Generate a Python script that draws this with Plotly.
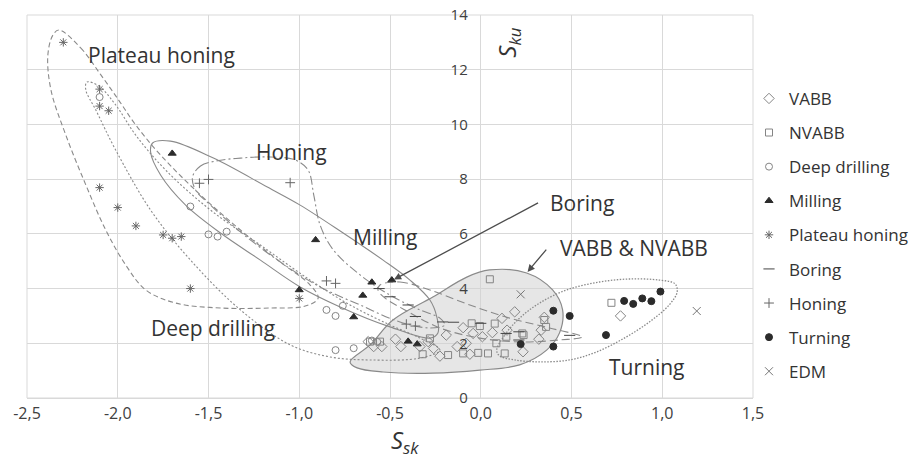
import plotly.graph_objects as go

# ---- axis ticks ----
x_ticks = [-2.5, -2.0, -1.5, -1.0, -0.5, 0.0, 0.5, 1.0, 1.5]
x_tick_text = ["-2,5", "-2,0", "-1,5", "-1,0", "-0,5", "0,0", "0,5", "1,0", "1,5"]
y_ticks = [0, 2, 4, 6, 8, 10, 12, 14]

# ---- measured surfaces (Ssk, Sku) ----
vabb_x = [-0.62, -0.59, -0.545, -0.47, -0.44, -0.335, -0.29, -0.26, -0.225, -0.19, -0.13,
          -0.097, -0.08, -0.06, -0.042, 0.009, 0.064, 0.117, 0.145, 0.187, 0.233, 0.32,
          0.333, 0.35, 0.77]
vabb_y = [2.06, 1.88, 1.88, 2.15, 1.88, 1.88, 2.06, 1.81, 1.53, 2.30, 1.88,
          2.57, 2.00, 1.60, 2.36, 2.24, 2.39, 2.91, 2.48, 3.15, 1.69, 2.15,
          2.48, 2.95, 3.00]

nvabb_x = [-0.61, -0.555, -0.32, -0.28, -0.18, -0.097, -0.05, -0.005, -0.014, 0.04,
           0.077, 0.086, 0.132, 0.141, 0.229, 0.236, 0.35, 0.36, 0.05, 0.72]
nvabb_y = [2.06, 2.06, 1.60, 2.18, 1.57, 1.63, 2.73, 2.63, 1.65, 1.63,
           2.72, 2.00, 1.63, 2.24, 2.36, 2.30, 2.85, 2.60, 4.34, 3.48]

deep_x = [-2.10, -1.60, -1.50, -1.45, -1.40, -0.85, -0.80, -0.76, -0.80, -0.70, -0.60, -0.57]
deep_y = [11.0, 7.0, 5.98, 5.90, 6.08, 3.22, 3.0, 3.37, 1.75, 1.82, 2.10, 2.05]

milling_x = [-1.70, -0.91, -1.00, -0.60, -0.49, -0.65, -0.70, -0.40, -0.35]
milling_y = [8.94, 5.78, 3.95, 4.23, 4.31, 3.75, 2.96, 2.07, 1.97]

plateau_x = [-2.30, -2.10, -2.10, -2.05, -2.10, -2.00, -1.90, -1.75, -1.70, -1.65, -1.60, -1.00]
plateau_y = [13.0, 11.29, 10.67, 10.50, 7.69, 6.96, 6.29, 5.96, 5.84, 5.90, 4.00, 3.64]

boring_x = [-0.56, -0.50, -0.40, -0.36, -0.21, -0.15, 0.0, 0.14, 0.21, 0.21, 0.49]
boring_y = [4.00, 3.70, 3.40, 2.98, 2.78, 2.77, 2.73, 2.36, 2.42, 2.12, 2.29]

honing_x = [-1.55, -1.50, -1.05, -0.85, -0.80, -0.41, -0.36]
honing_y = [7.85, 7.99, 7.87, 4.28, 4.19, 2.70, 2.63]

turning_x = [0.22, 0.40, 0.40, 0.49, 0.69, 0.79, 0.84, 0.89, 0.94, 0.99]
turning_y = [1.97, 3.19, 1.88, 3.00, 2.30, 3.55, 3.44, 3.64, 3.54, 3.89]

edm_x = [0.22, 1.19]
edm_y = [3.79, 3.18]

# ---- hand-drawn group outlines (Ssk, Sku) ----
vabb_outline = [(-0.720, 1.32), (-0.610, 1.94), (-0.484, 2.85), (-0.264, 3.69), (-0.077, 4.42),
                (0.049, 4.68), (0.253, 4.57), (0.396, 3.95), (0.451, 3.22), (0.434, 2.38),
                (0.363, 1.75), (0.214, 1.21), (-0.005, 1.02), (-0.264, 0.91), (-0.538, 0.95),
                (-0.681, 1.10)]
plateau_outline = [(-2.324, 13.45), (-2.203, 12.79), (-2.093, 11.81), (-1.995, 10.89),
                   (-1.901, 9.98), (-1.764, 8.88), (-1.544, 7.42), (-1.324, 6.14),
                   (-1.104, 4.97), (-0.940, 4.13), (-0.896, 3.65), (-0.967, 3.36),
                   (-1.159, 3.29), (-1.434, 3.29), (-1.681, 3.47), (-1.846, 3.95),
                   (-1.956, 4.86), (-2.066, 6.14), (-2.176, 7.79), (-2.286, 9.61),
                   (-2.368, 11.26), (-2.385, 12.54), (-2.357, 13.27)]
deep_outline = [(-2.170, 11.55), (-2.104, 11.40), (-2.011, 10.71), (-1.901, 9.61),
                (-1.736, 8.33), (-1.489, 6.87), (-1.214, 5.59), (-0.940, 4.31),
                (-0.720, 3.40), (-0.500, 2.67), (-0.335, 2.19), (-0.225, 1.75),
                (-0.335, 1.46), (-0.610, 1.39), (-0.830, 1.50), (-1.049, 1.94),
                (-1.324, 3.22), (-1.599, 5.04), (-1.819, 6.87), (-2.011, 9.06),
                (-2.121, 10.53), (-2.176, 11.26)]
milling_outline = [(-1.808, 9.32), (-1.709, 9.39), (-1.473, 8.77), (-1.176, 7.71),
                   (-0.995, 7.05), (-0.758, 6.03), (-0.538, 5.04), (-0.390, 4.31),
                   (-0.280, 3.58), (-0.242, 2.96), (-0.236, 2.38), (-0.280, 2.19),
                   (-0.500, 2.60), (-0.775, 3.33), (-0.995, 4.06), (-1.214, 5.04),
                   (-1.434, 6.03), (-1.626, 7.05), (-1.764, 8.15), (-1.819, 8.99)]
honing_outline = [(-1.588, 8.08), (-1.544, 8.48), (-1.462, 8.66), (-1.324, 8.77),
                  (-1.159, 8.81), (-1.022, 8.70), (-0.951, 8.33), (-0.920, 7.42),
                  (-0.885, 6.32), (-0.812, 5.41), (-0.665, 4.50), (-0.500, 3.76),
                  (-0.335, 3.22), (-0.225, 2.92), (-0.198, 2.67), (-0.280, 2.56),
                  (-0.445, 2.78), (-0.665, 3.40), (-0.885, 4.06), (-1.104, 4.97),
                  (-1.324, 6.07), (-1.489, 7.05), (-1.571, 7.60)]
boring_outline = [(-0.555, 4.13), (-0.445, 4.24), (-0.280, 3.95), (-0.060, 3.40),
                  (0.159, 2.92), (0.379, 2.56), (0.560, 2.23), (0.434, 2.12),
                  (0.214, 2.05), (-0.005, 2.19), (-0.225, 2.56), (-0.418, 3.22),
                  (-0.527, 3.65), (-0.566, 3.95)]
turning_outline = [(0.088, 1.75), (0.132, 2.30), (0.214, 2.92), (0.324, 3.47), (0.473, 3.95),
                   (0.654, 4.24), (0.819, 4.35), (0.984, 4.31), (1.071, 4.17), (1.082, 3.87),
                   (1.038, 3.40), (0.929, 2.78), (0.791, 2.19), (0.637, 1.68), (0.489, 1.39),
                   (0.324, 1.32), (0.187, 1.39), (0.104, 1.54)]

# ---- group labels and arrows ----
label_text = ["Plateau honing", "Honing", "Milling", "Boring", "VABB & NVABB",
              "Deep drilling", "Turning"]
label_x = [-1.758, -1.044, -0.527, 0.56, 0.846, -1.473, 0.918]
label_y = [12.54, 8.99, 5.88, 7.13, 5.48, 2.56, 1.13]
arrow_tail = [(0.324, 7.16), (0.368, 5.48)]
arrow_head = [(-0.478, 4.33), (0.258, 4.61)]

GRID = "#d9d9d9"
OPEN = "#858585"
DARK = "#2b2b2b"
TEXT = "#333333"

fig = go.Figure()


def closed(points):
    xs = [p[0] for p in points] + [points[0][0]]
    ys = [p[1] for p in points] + [points[0][1]]
    return xs, ys


ox, oy = closed(vabb_outline)
fig.add_trace(go.Scatter(x=ox, y=oy, mode="lines", fill="toself",
                         fillcolor="rgba(210,210,210,0.55)",
                         line=dict(color="#8a8a8a", width=1.2, shape="spline", smoothing=1.0),
                         showlegend=False, hoverinfo="skip"))

for pts, dash, width in [
    (plateau_outline, "5px,3px", 1.1),
    (deep_outline, "2px,2px", 1.1),
    (milling_outline, "solid", 1.1),
    (honing_outline, "9px,3px,2px,3px", 1.1),
    (boring_outline, "8px,4px", 1.1),
    (turning_outline, "1.5px,1.5px", 1.3),
]:
    ox, oy = closed(pts)
    fig.add_trace(go.Scatter(x=ox, y=oy, mode="lines",
                             line=dict(color="#8a8a8a", width=width, dash=dash,
                                       shape="spline", smoothing=1.0),
                             showlegend=False, hoverinfo="skip"))

series = [
    ("VABB", vabb_x, vabb_y, "diamond-open", OPEN, 8),
    ("NVABB", nvabb_x, nvabb_y, "square-open", OPEN, 7),
    ("Deep drilling", deep_x, deep_y, "circle-open", OPEN, 7),
    ("Milling", milling_x, milling_y, "triangle-up", DARK, 7),
    ("Plateau honing", plateau_x, plateau_y, "asterisk-open", "#666666", 7),
    ("Boring", boring_x, boring_y, "line-ew-open", "#444444", 8),
    ("Honing", honing_x, honing_y, "cross-thin-open", "#666666", 7),
    ("Turning", turning_x, turning_y, "circle", DARK, 7),
    ("EDM", edm_x, edm_y, "x-thin-open", "#777777", 8),
]
for i, (name, xs, ys, sym, col, size) in enumerate(series):
    fig.add_trace(go.Scatter(
        x=xs, y=ys, mode="markers", name=name, legendgroup=f"g{i}",
        marker=dict(symbol=sym, size=size, color=col,
                    line=dict(color=col, width=1)),
    ))

for t, x, y in zip(label_text, label_x, label_y):
    fig.add_annotation(x=x, y=y, text=t, showarrow=False,
                       font=dict(family="Open Sans", size=21, color=TEXT))

for (tx, ty), (hx, hy) in zip(arrow_tail, arrow_head):
    fig.add_annotation(x=hx, y=hy, ax=tx, ay=ty, axref="x", ayref="y",
                       xref="x", yref="y", text="", showarrow=True,
                       arrowhead=2, arrowsize=1.1, arrowwidth=1.3, arrowcolor="#4d4d4d")

# axis titles
fig.add_annotation(x=0.52, y=-0.165, xref="paper", yref="paper",
                   text="<i>S</i><sub><i>sk</i></sub>", showarrow=False,
                   font=dict(family="Open Sans", size=24, color=TEXT))
fig.add_annotation(x=0.69, y=0.972, xref="paper", yref="paper", textangle=-90,
                   text="<i>S</i><sub><i>ku</i></sub>", showarrow=False,
                   font=dict(family="Open Sans", size=24, color=TEXT))

fig.add_shape(type="rect", xref="paper", yref="paper", x0=0, y0=0, x1=1, y1=1,
              line=dict(color=GRID, width=1), layer="below")

fig.update_layout(
    width=920, height=463,
    margin=dict(l=27, r=167, t=15, b=65, autoexpand=False),
    paper_bgcolor="white", plot_bgcolor="white",
    font=dict(family="Open Sans", color="#404040"),
    xaxis=dict(range=[-2.5, 1.5], tickvals=x_ticks, ticktext=x_tick_text,
               showgrid=True, gridcolor=GRID, gridwidth=1,
               zeroline=True, zerolinecolor=GRID, zerolinewidth=1,
               showline=False, ticks="", ticklabelstandoff=4,
               tickfont=dict(size=16, color="#404040")),
    yaxis=dict(range=[0, 14], tickvals=y_ticks, anchor="free", position=0.625,
               showgrid=True, gridcolor=GRID, gridwidth=1,
               zeroline=True, zerolinecolor=GRID, zerolinewidth=1,
               showline=False, ticks="", ticklabelstandoff=13,
               tickfont=dict(size=15, color="#404040")),
    legend=dict(x=0.9945, y=0.828, xanchor="left", yanchor="top",
                font=dict(size=17, color="#333333"),
                traceorder="grouped", tracegroupgap=9,
                itemwidth=30, bgcolor="rgba(0,0,0,0)"),
    showlegend=True,
)

fig.write_html("out.html")
